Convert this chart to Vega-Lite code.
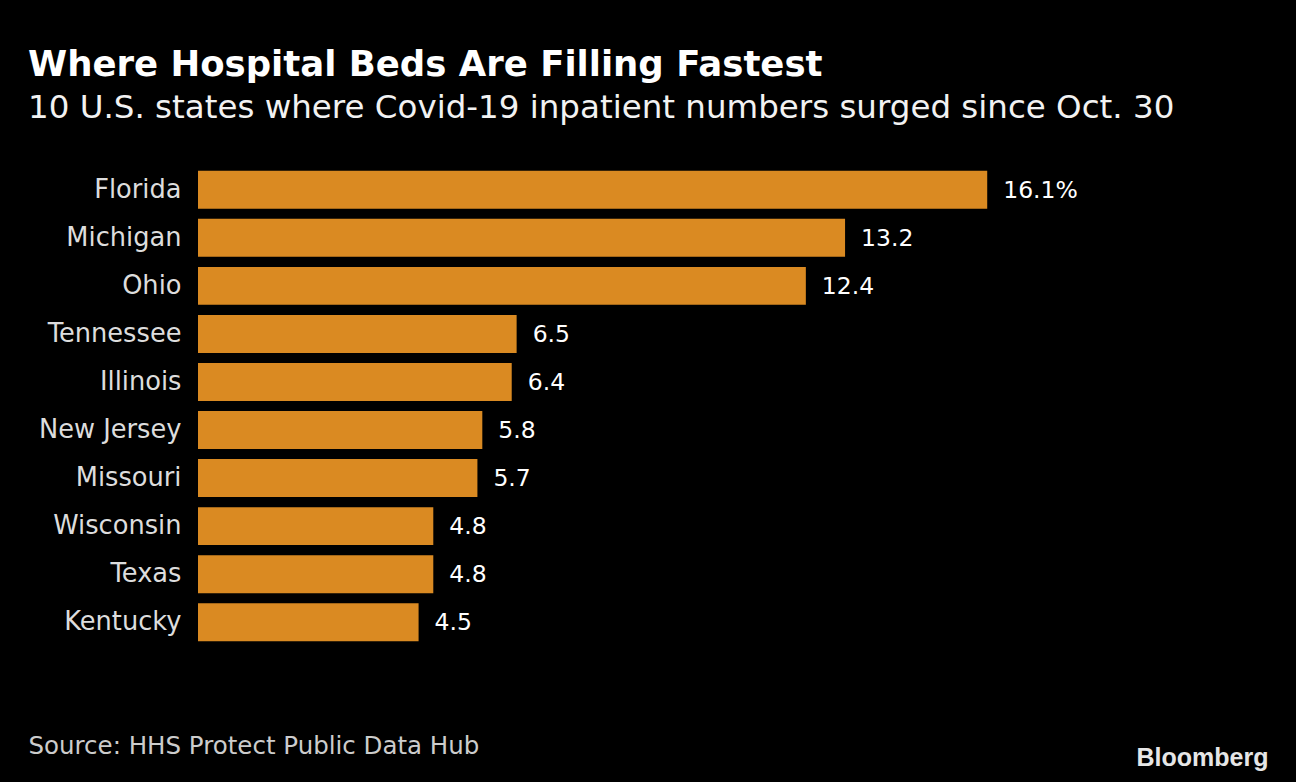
{
  "$schema": "https://vega.github.io/schema/vega-lite/v6.json",
  "autosize": {"type": "none"},
  "width": 1000,
  "height": 480,
  "padding": {"left": 198, "top": 166, "right": 98, "bottom": 136},
  "background": "#000000",
  "title": {
    "text": "Where Hospital Beds Are Filling Fastest",
    "subtitle": "10 U.S. states where Covid-19 inpatient numbers surged since Oct. 30",
    "anchor": "start",
    "frame": "group",
    "dx": -170,
    "offset": 42,
    "font": "DejaVu Sans",
    "fontSize": 35.5,
    "fontWeight": "bold",
    "color": "#ffffff",
    "subtitleFont": "DejaVu Sans",
    "subtitleFontSize": 32.5,
    "subtitleColor": "#f2f2f2",
    "subtitlePadding": 8
  },
  "data": {
    "values": [
      {"state": "Florida", "value": 16.1, "label": "16.1%"},
      {"state": "Michigan", "value": 13.2, "label": "13.2"},
      {"state": "Ohio", "value": 12.4, "label": "12.4"},
      {"state": "Tennessee", "value": 6.5, "label": "6.5"},
      {"state": "Illinois", "value": 6.4, "label": "6.4"},
      {"state": "New Jersey", "value": 5.8, "label": "5.8"},
      {"state": "Missouri", "value": 5.7, "label": "5.7"},
      {"state": "Wisconsin", "value": 4.8, "label": "4.8"},
      {"state": "Texas", "value": 4.8, "label": "4.8"},
      {"state": "Kentucky", "value": 4.5, "label": "4.5"}
    ]
  },
  "encoding": {
    "y": {
      "field": "state",
      "type": "nominal",
      "sort": null,
      "scale": {"paddingInner": 0.21, "paddingOuter": 0.1},
      "axis": {
        "title": null,
        "ticks": false,
        "domain": false,
        "labelPadding": 17,
        "labelFont": "DejaVu Sans",
        "labelFontSize": 25.7,
        "labelColor": "#dddddd"
      }
    },
    "x": {
      "field": "value",
      "type": "quantitative",
      "scale": {"domain": [0, 20.4], "nice": false},
      "axis": {
        "title": "Source: HHS Protect Public Data Hub",
        "labels": false,
        "ticks": false,
        "domain": false,
        "grid": false,
        "titleAnchor": "start",
        "titleAlign": "left",
        "titleX": -170,
        "titleY": 88,
        "titleFont": "DejaVu Sans",
        "titleFontSize": 24.5,
        "titleFontWeight": "normal",
        "titleColor": "#cccccc"
      }
    }
  },
  "layer": [
    {"mark": {"type": "bar", "color": "#da8a22"}},
    {
      "mark": {"type": "text", "align": "left", "baseline": "middle", "dx": 16, "dy": 1, "font": "DejaVu Sans", "fontSize": 23.5, "color": "#ffffff"},
      "encoding": {
        "text": {"field": "label"},
        "y": {
          "field": "state",
          "type": "nominal",
          "sort": null,
          "axis": {
            "orient": "right",
            "title": "Bloomberg",
            "labels": false,
            "ticks": false,
            "domain": false,
            "titleAngle": 0,
            "titleAlign": "right",
            "titleBaseline": "alphabetic",
            "titleX": 70,
            "titleY": 599,
            "titleFont": "Liberation Sans",
            "titleFontSize": 25,
            "titleFontWeight": "bold",
            "titleColor": "#e6e6e6"
          }
        }
      }
    }
  ],
  "resolve": {"axis": {"y": "independent"}},
  "config": {"view": {"stroke": null}}
}
